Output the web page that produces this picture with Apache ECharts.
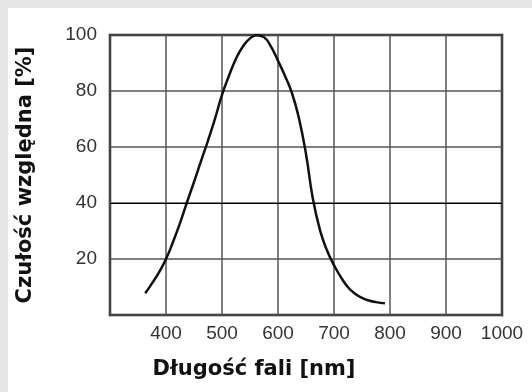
<!DOCTYPE html>
<html>
<head>
<meta charset="utf-8">
<script src="https://cdn.jsdelivr.net/npm/echarts@6/dist/echarts.min.js"></script>
<style>
  html, body { margin: 0; padding: 0; width: 532px; height: 392px; background: #e6e6e6; overflow: hidden; }
  #panel { position: absolute; left: 8px; top: 8px; right: 0; bottom: 0; background: #ffffff; }
  #chart { position: absolute; left: 0; top: 0; width: 532px; height: 392px; }
</style>
</head>
<body>
<div id="panel"></div>
<div id="chart"></div>
<script>
const wavelength = [363, 375, 388, 400, 412, 425, 437, 450, 462, 475, 487, 500, 512, 525, 537, 550, 562, 575, 587, 600, 612, 625, 637, 650, 662, 675, 687, 700, 712, 725, 737, 750, 762, 775, 791];
const sensitivity = [7.8, 11.3, 15.4, 20, 25.8, 32.8, 40, 47.5, 54.7, 62.3, 69.8, 78.6, 85.2, 91.5, 95.8, 98.8, 99.9, 99.2, 96, 90.8, 85.6, 79.2, 70.6, 57.5, 41.8, 30.3, 23.3, 17.8, 13.6, 9.9, 7.7, 6.1, 5.2, 4.6, 4.2];
const xTicks = [400, 500, 600, 700, 800, 900, 1000];
const yTicks = [20, 40, 60, 80, 100];
const xTitle = 'Długość fali [nm]';
const yTitle = 'Czułość względna [%]';

const chart = echarts.init(document.getElementById('chart'), null, { renderer: 'canvas' });
const points = wavelength.map((w, i) => [w, sensitivity[i]]);
const labelFont = { fontFamily: 'Liberation Sans', fontSize: 19, color: '#333' };
const titleFont = { fontFamily: 'DejaVu Sans', fontWeight: 'bold', fontSize: 21, color: '#111' };

chart.setOption({
  backgroundColor: 'transparent',
  animation: false,
  grid: { left: 110, top: 35, width: 392, height: 280, show: true, borderColor: '#1a1a1a', borderWidth: 2.5, backgroundColor: 'transparent' },
  xAxis: {
    type: 'value', min: 300, max: 1000, interval: 100,
    name: xTitle, nameLocation: 'middle', nameGap: 44,
    nameTextStyle: Object.assign({}, titleFont, { padding: [0, 104, 0, 0] }),
    axisLine: { show: false }, axisTick: { show: false },
    axisLabel: Object.assign({}, labelFont, { margin: 9, formatter: v => xTicks.includes(v) ? String(v) : '' }),
    splitLine: { show: true, lineStyle: { color: '#555', width: 1.5 } }
  },
  yAxis: {
    type: 'value', min: 0, max: 100, interval: 20,
    name: yTitle, nameLocation: 'middle', nameGap: 74, nameRotate: 90,
    nameTextStyle: titleFont,
    axisLine: { show: false }, axisTick: { show: false },
    axisLabel: Object.assign({}, labelFont, { margin: 13, formatter: v => yTicks.includes(v) ? String(v) : '' }),
    splitLine: { show: true, lineStyle: { color: '#555', width: 1.5 } }
  },
  series: [{
    type: 'line', data: points, smooth: 0.5,
    showSymbol: false, symbol: 'none',
    lineStyle: { color: '#111', width: 2.5 },
    markLine: {
      silent: true, symbol: 'none', label: { show: false },
      lineStyle: { color: '#000', width: 1, type: 'solid' },
      data: [{ yAxis: 40 }]
    }
  }]
});
</script>
</body>
</html>
